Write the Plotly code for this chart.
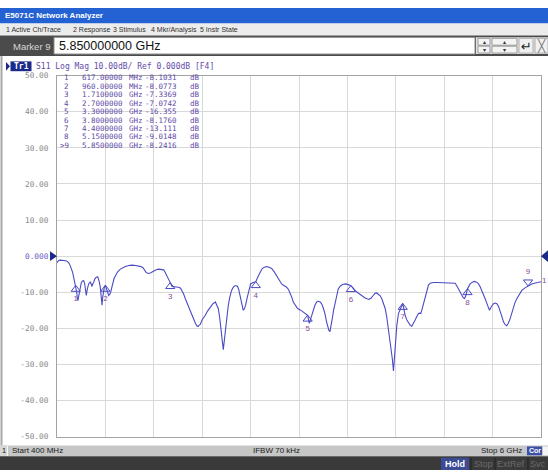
import plotly.graph_objects as go

# ---------------- data ----------------
freq_ghz = [
    0.400, 0.420, 0.439, 0.470, 0.500, 0.516, 0.540, 0.554, 0.568, 0.581, 0.594, 0.604, 0.617, 0.628, 0.636,
    0.643, 0.650, 0.658, 0.670, 0.682, 0.695, 0.709, 0.720, 0.728, 0.739, 0.750, 0.766, 0.786, 0.795, 0.805,
    0.815, 0.824, 0.838, 0.851, 0.871, 0.886, 0.901, 0.912, 0.921, 0.928, 0.936, 0.948, 0.960, 0.970, 0.979,
    0.990, 0.998, 1.010, 1.021, 1.033, 1.044, 1.060, 1.075, 1.100, 1.133, 1.160, 1.191, 1.230, 1.268, 1.310,
    1.345, 1.370, 1.395, 1.413, 1.430, 1.455, 1.480, 1.500, 1.519, 1.548, 1.576, 1.610, 1.634, 1.648, 1.661,
    1.676, 1.692, 1.710, 1.731, 1.760, 1.790, 1.808, 1.830, 1.846, 1.865, 1.885, 1.905, 1.923, 1.942, 1.962,
    1.980, 2.001, 2.018, 2.032, 2.045, 2.058, 2.078, 2.100, 2.116, 2.140, 2.174, 2.200, 2.232, 2.250, 2.266,
    2.282, 2.297, 2.312, 2.324, 2.338, 2.351, 2.366, 2.382, 2.400, 2.420, 2.440, 2.459, 2.475, 2.490, 2.505,
    2.517, 2.537, 2.555, 2.568, 2.582, 2.598, 2.613, 2.627, 2.640, 2.670, 2.700, 2.725, 2.748, 2.768, 2.787,
    2.805, 2.825, 2.855, 2.883, 2.912, 2.941, 2.970, 2.999, 3.030, 3.057, 3.080, 3.095, 3.115, 3.134, 3.160,
    3.184, 3.215, 3.235, 3.249, 3.275, 3.300, 3.310, 3.319, 3.330, 3.346, 3.365, 3.384, 3.405, 3.423, 3.445,
    3.462, 3.480, 3.500, 3.517, 3.531, 3.545, 3.558, 3.572, 3.585, 3.600, 3.616, 3.635, 3.654, 3.675, 3.693,
    3.715, 3.739, 3.770, 3.800, 3.825, 3.847, 3.885, 3.924, 3.965, 4.009, 4.035, 4.059, 4.080, 4.098, 4.119,
    4.140, 4.158, 4.178, 4.197, 4.215, 4.235, 4.250, 4.266, 4.280, 4.293, 4.303, 4.312, 4.322, 4.332, 4.351,
    4.375, 4.400, 4.415, 4.428, 4.448, 4.467, 4.485, 4.505, 4.525, 4.544, 4.563, 4.582, 4.596, 4.609, 4.625,
    4.640, 4.660, 4.679, 4.698, 4.717, 4.736, 4.756, 4.800, 4.852, 4.900, 4.949, 4.980, 5.007, 5.025, 5.045,
    5.065, 5.084, 5.100, 5.115, 5.130, 5.150, 5.165, 5.180, 5.205, 5.230, 5.255, 5.277, 5.296, 5.315, 5.335,
    5.354, 5.380, 5.404, 5.425, 5.450, 5.470, 5.489, 5.508, 5.527, 5.546, 5.566, 5.585, 5.604, 5.622, 5.643,
    5.662, 5.682, 5.700, 5.720, 5.750, 5.778, 5.815, 5.850, 5.894, 5.925, 5.952, 5.975, 6.000,
]
s11_db = [
    -1.8, -1.2, -1.1, -1.1, -1.3, -1.4, -2.0, -2.7, -3.5, -4.5, -6.0, -7.3, -8.1, -10.0, -11.8,
    -12.3, -11.2, -10.0, -8.2, -7.3, -6.9, -6.8, -7.6, -8.6, -10.9, -9.2, -7.7, -7.1, -7.8, -8.4,
    -7.6, -7.3, -6.3, -5.9, -5.7, -6.8, -8.6, -11.0, -13.6, -11.5, -10.0, -8.6, -8.1, -8.8, -9.5,
    -10.5, -10.9, -10.6, -10.0, -8.8, -7.3, -6.2, -5.5, -4.4, -3.6, -3.2, -2.9, -2.6, -2.5, -2.6,
    -2.7, -2.9, -3.2, -3.8, -4.5, -4.8, -4.7, -4.4, -4.1, -3.8, -3.6, -3.6, -3.8, -4.3, -5.0,
    -6.0, -6.8, -7.34, -8.4, -8.4, -8.5, -8.6, -8.9, -9.5, -10.5, -11.8, -13.0, -14.1, -15.3, -16.4,
    -17.4, -18.6, -19.3, -19.5, -19.1, -18.9, -17.7, -17.0, -16.4, -15.3, -14.1, -13.3, -12.7, -13.5, -14.5,
    -17.0, -20.0, -23.5, -25.9, -23.0, -20.0, -16.5, -13.6, -11.3, -9.5, -8.6, -8.2, -8.2, -8.4, -9.5,
    -10.9, -13.0, -15.0, -14.6, -13.6, -11.8, -10.0, -8.7, -7.7, -7.3, -7.07, -5.7, -4.5, -3.7, -3.2,
    -2.95, -2.9, -3.1, -3.4, -4.3, -5.5, -6.6, -7.7, -8.2, -8.6, -9.3, -10.0, -11.3, -12.7, -13.8,
    -14.5, -14.9, -15.2, -15.5, -15.9, -16.36, -17.6, -18.6, -17.8, -16.4, -14.8, -13.6, -12.7, -12.5, -12.7,
    -13.2, -14.3, -15.9, -18.0, -19.5, -20.5, -20.9, -19.5, -17.3, -15.0, -13.2, -11.0, -9.1, -8.4, -8.0,
    -7.8, -7.7, -7.9, -8.18, -8.8, -9.5, -10.2, -10.9, -11.6, -12.0, -11.6, -10.9, -10.3, -10.2, -10.5,
    -11.0, -11.8, -13.0, -14.5, -16.8, -20.0, -22.5, -25.5, -28.5, -31.8, -28.5, -25.5, -22.0, -19.1, -15.9,
    -14.5, -13.11, -14.8, -16.4, -17.7, -18.6, -19.1, -19.4, -18.7, -17.7, -16.7, -15.9, -15.8, -15.9, -14.6,
    -13.2, -11.0, -9.1, -8.0, -7.5, -7.35, -7.3, -7.3, -7.3, -7.35, -7.3, -7.3, -7.5, -8.2, -9.1,
    -10.0, -10.9, -11.5, -11.8, -11.0, -9.02, -8.2, -7.7, -7.2, -7.0, -7.2, -7.7, -8.5, -9.5, -10.6,
    -11.8, -13.5, -15.0, -14.0, -13.2, -13.0, -13.2, -13.9, -15.0, -16.6, -18.2, -19.0, -19.3, -18.6, -17.3,
    -15.7, -14.1, -12.8, -11.8, -10.5, -9.5, -8.8, -8.24, -7.7, -7.5, -7.3, -7.2, -7.1,
]

marker_ids = ["1", "2", "3", "4", "5", "6", "7", "8", "9"]
marker_freq_ghz = [0.617, 0.960, 1.710, 2.700, 3.300, 3.800, 4.400, 5.150, 5.850]
marker_db = [-8.1031, -8.0773, -7.3369, -7.0742, -16.355, -8.1760, -13.111, -9.0148, -8.2416]
marker_freq_text = ["617.00000", "960.00000", "1.7100000", "2.7000000", "3.3000000",
                    "3.8000000", "4.4000000", "5.1500000", "5.8500000"]
marker_unit_text = ["MHz", "MHz", "GHz", "GHz", "GHz", "GHz", "GHz", "GHz", "GHz"]
marker_db_text = ["-8.1031", "-8.0773", "-7.3369", "-7.0742", "-16.355",
                  "-8.1760", "-13.111", "-9.0148", "-8.2416"]
active_marker = "9"

y_tick_vals = [50, 40, 30, 20, 10, 0, -10, -20, -30, -40, -50]
y_tick_labels = ["50.00", "40.00", "30.00", "20.00", "10.00", "0.000",
                 "-10.00", "-20.00", "-30.00", "-40.00", "-50.00"]

start_ghz, stop_ghz = 0.4, 6.0
y_min, y_max = -50, 50

title_text = "E5071C Network Analyzer"
menu_items = ["1 Active Ch/Trace", "2 Response", "3 Stimulus", "4 Mkr/Analysis", "5 Instr State"]
entry_label = "Marker 9"
entry_value = "5.850000000 GHz"
trace_title = "S11 Log Mag 10.00dB/ Ref 0.000dB [F4]"
status_start = "Start 400 MHz"
status_ifbw = "IFBW 70 kHz"
status_stop = "Stop 6 GHz"

# ---------------- geometry / style ----------------
W, H = 548, 475
PL, PR, PT, PB = 57, 541, 73, 441
DB_PER_PX = (y_max - y_min) / (PB - PT)
MONO = "DejaVu Sans Mono"
SANS = "Liberation Sans"
TRACE_C = "#4a4ac6"
PURPLE = "#5f4ba8"
NAVY = "#1b2a8a"


def px(x):
    return x / W


def py(y):
    return 1 - y / H


fig = go.Figure()

# main trace
fig.add_trace(go.Scatter(x=freq_ghz, y=s11_db, mode="lines",
                         line=dict(color=TRACE_C, width=1.1),
                         hoverinfo="skip", showlegend=False))

# on-trace markers
idx_in = [i for i, m in enumerate(marker_ids) if m != active_marker]
idx_act = [i for i, m in enumerate(marker_ids) if m == active_marker]
fig.add_trace(go.Scatter(
    x=[marker_freq_ghz[i] for i in idx_in],
    y=[marker_db[i] - 4 * DB_PER_PX for i in idx_in],
    mode="markers+text", text=[marker_ids[i] for i in idx_in],
    textposition="bottom center", textfont=dict(family=SANS, size=8, color="#8a4a9a"),
    marker=dict(symbol="triangle-up-open", size=8, color=TRACE_C, line=dict(width=1)),
    cliponaxis=False, hoverinfo="skip", showlegend=False))
fig.add_trace(go.Scatter(
    x=[marker_freq_ghz[i] for i in idx_act],
    y=[marker_db[i] + 4 * DB_PER_PX for i in idx_act],
    mode="markers+text", text=[marker_ids[i] for i in idx_act],
    textposition="top center", textfont=dict(family=SANS, size=8, color="#8a4a9a"),
    marker=dict(symbol="triangle-down-open", size=8, color=TRACE_C, line=dict(width=1)),
    cliponaxis=False, hoverinfo="skip", showlegend=False))

# stimulus markers under the graticule
fig.add_trace(go.Scatter(
    x=[marker_freq_ghz[i] for i in idx_in],
    y=[y_min - 5 * DB_PER_PX] * len(idx_in),
    mode="markers",
    marker=dict(symbol="triangle-up-open", size=9, color="#5050c8", line=dict(width=1)),
    cliponaxis=False, hoverinfo="skip", showlegend=False))
fig.add_trace(go.Scatter(
    x=[marker_freq_ghz[i] for i in idx_act],
    y=[y_min - 5 * DB_PER_PX] * len(idx_act),
    mode="markers",
    marker=dict(symbol="triangle-up", size=9, color="#14147a", line=dict(width=0)),
    cliponaxis=False, hoverinfo="skip", showlegend=False))

shapes = []
ann = []


def rect(x0, y0, x1, y1, fill, line=None, lw=0):
    shapes.append(dict(type="rect", xref="paper", yref="paper",
                       x0=px(x0), x1=px(x1), y0=py(y1), y1=py(y0),
                       fillcolor=fill, line=dict(color=line or fill, width=lw), layer="above"))


def vline(x, y0, y1, color, w=1):
    shapes.append(dict(type="line", xref="paper", yref="paper",
                       x0=px(x), x1=px(x), y0=py(y0), y1=py(y1),
                       line=dict(color=color, width=w), layer="above"))


def text(x, y, s, size, color, family=SANS, xa="left", bold=False):
    if bold:
        s = "<b>" + s + "</b>"
    ann.append(dict(xref="paper", yref="paper", x=px(x), y=py(y), text=s,
                    showarrow=False, xanchor=xa, yanchor="middle",
                    font=dict(family=family, size=size, color=color)))


# title bar
rect(0, 4, W, 20, "#2462d4")
text(3, 12, title_text, 8, "white", bold=True)
# menu bar
rect(0, 20, W, 32, "#ececec")
menu_x = [4, 71, 111, 149, 198]
for mx, item in zip(menu_x, menu_items):
    text(mx, 26.5, item, 7, "#303030")
# entry bar
rect(0, 32, W, 53, "#4b4b4b")
text(11, 43, entry_label, 9.5, "#d8d8d8")
rect(54, 34, 475, 51, "white", "#8c8c8c", 1)
text(57, 43, entry_value, 12.5, "#111111")
rect(476, 34, W, 51, "#e2e2e2")
for bx0, bx1 in [(478, 490), (492, 517)]:
    rect(bx0, 35, bx1, 42, "#f4f4f4", "#9a9a9a", 1)
    rect(bx0, 43, bx1, 50, "#f4f4f4", "#9a9a9a", 1)
    text((bx0 + bx1) / 2, 38.5, "▴", 6, "#333333", xa="center")
    text((bx0 + bx1) / 2, 46.5, "▾", 6, "#333333", xa="center")
rect(519, 35, 533, 50, "#f0f0f0", "#b0b0b0", 1)
text(526, 43, "↵", 13, "#222222", family="DejaVu Sans", xa="center")
rect(535, 35, W, 50, "#f0f0f0", "#b0b0b0", 1)
text(541, 42.5, "╳", 12, "#7a7a7a", family="DejaVu Sans", xa="center")

# window left border
vline(1.5, 53, 450, "#a8a8a8", 2)

# trace title line
shapes.append(dict(type="path", xref="paper", yref="paper",
                   path=f"M {px(6)},{py(59)} L {px(10)},{py(63.5)} L {px(6)},{py(68)} Z",
                   fillcolor=NAVY, line=dict(width=0), layer="above"))
rect(10.5, 58.5, 31.5, 68.5, NAVY)
text(21, 63.5, "Tr1", 8, "white", family=MONO, xa="center", bold=True)
text(34, 63.5, trace_title, 8, PURPLE, family=MONO)

# marker table
for i, m in enumerate(marker_ids):
    yy = 75 + i * 8.65
    lbl = (">" + m) if m == active_marker else m
    text(71, yy, lbl, 7.5, PURPLE, family=MONO, xa="right")
    text(80, yy, marker_freq_text[i], 7.5, PURPLE, family=MONO)
    text(126.5, yy, marker_unit_text[i], 7.5, PURPLE, family=MONO)
    text(143, yy, marker_db_text[i], 7.5, PURPLE, family=MONO)
    text(188, yy, "dB", 7.5, PURPLE, family=MONO)

# reference level arrows at 0 dB
hw = 5 * DB_PER_PX
shapes.append(dict(type="path", xref="paper", yref="y",
                   path=f"M {px(50)},{hw} L {px(57)},0 L {px(50)},{-hw} Z",
                   fillcolor=NAVY, line=dict(width=0), layer="above"))
shapes.append(dict(type="path", xref="paper", yref="y",
                   path=f"M {px(548)},{hw * 1.2} L {px(541)},0 L {px(548)},{-hw * 1.2} Z",
                   fillcolor=NAVY, line=dict(width=0), layer="above"))
# trace number at right end
ann.append(dict(xref="paper", yref="y", x=px(544), y=s11_db[-1] + 1.5 * DB_PER_PX, text="1",
                showarrow=False, xanchor="center", yanchor="middle",
                font=dict(family=SANS, size=8, color="#8a4a9a")))

# status bar
rect(0, 450, W, 461, "#c6c6c6")
rect(0, 450, 7, 461, "#d6d6d6")
vline(7.5, 450, 461, "#f4f4f4", 1)
text(3.5, 455.5, "1", 7.5, "#202020", xa="center")
text(10, 455.5, status_start, 8, "#202020")
text(276, 455.5, status_ifbw, 8, "#202020", xa="center")
text(524, 455.5, status_stop, 8, "#202020", xa="right")
rect(527, 451, 542, 460, "#3d4fa6")
text(534.5, 455.5, "Cor", 7, "white", xa="center", bold=True)
rect(543, 451, W, 460, "#f4f4f4")

# bottom bar
rect(0, 461, W, H, "#3a3a3a")
rect(441, 462.5, 469, H, "#3b4b94")
text(455, 468.5, "Hold", 9, "white", xa="center", bold=True)
for sx in [471, 495, 528]:
    vline(sx, 462.5, H, "#2a2a2a", 1.5)
text(483, 468.5, "Stop", 9, "#6c6c6c", xa="center")
text(511, 468.5, "ExtRef", 9, "#6c6c6c", xa="center")
text(538, 468.5, "Svc", 9, "#6c6c6c", xa="center")

tick_text = [f"<span style='color:#6b5bc0'>{t}</span>" if v == 0 else t
             for v, t in zip(y_tick_vals, y_tick_labels)]

fig.update_layout(
    width=W, height=H, margin=dict(l=0, r=0, t=0, b=0),
    paper_bgcolor="white", plot_bgcolor="white", showlegend=False,
    shapes=shapes, annotations=ann,
    xaxis=dict(domain=[px(PL), px(PR)], range=[start_ghz, stop_ghz],
               tick0=start_ghz, dtick=(stop_ghz - start_ghz) / 10,
               showticklabels=False, ticks="", showgrid=True,
               gridcolor="#d9d9d9", gridwidth=1, zeroline=False,
               showline=True, linecolor="#a3a3a3", linewidth=1, mirror=True,
               fixedrange=True),
    yaxis=dict(domain=[1 - PB / H, 1 - PT / H], range=[y_min, y_max],
               tickmode="array", tickvals=y_tick_vals, ticktext=tick_text,
               tickfont=dict(family=MONO, size=7.8, color="#8a8a8a"),
               ticks="outside", ticklen=6, tickcolor="rgba(0,0,0,0)",
               showgrid=True, gridcolor="#d9d9d9", gridwidth=1, zeroline=False,
               showline=True, linecolor="#a3a3a3", linewidth=1, mirror=True,
               fixedrange=True),
)

fig.write_html("out.html", config={"displayModeBar": False},
               post_script="document.body.style.margin='0';document.body.style.overflow='hidden';")
